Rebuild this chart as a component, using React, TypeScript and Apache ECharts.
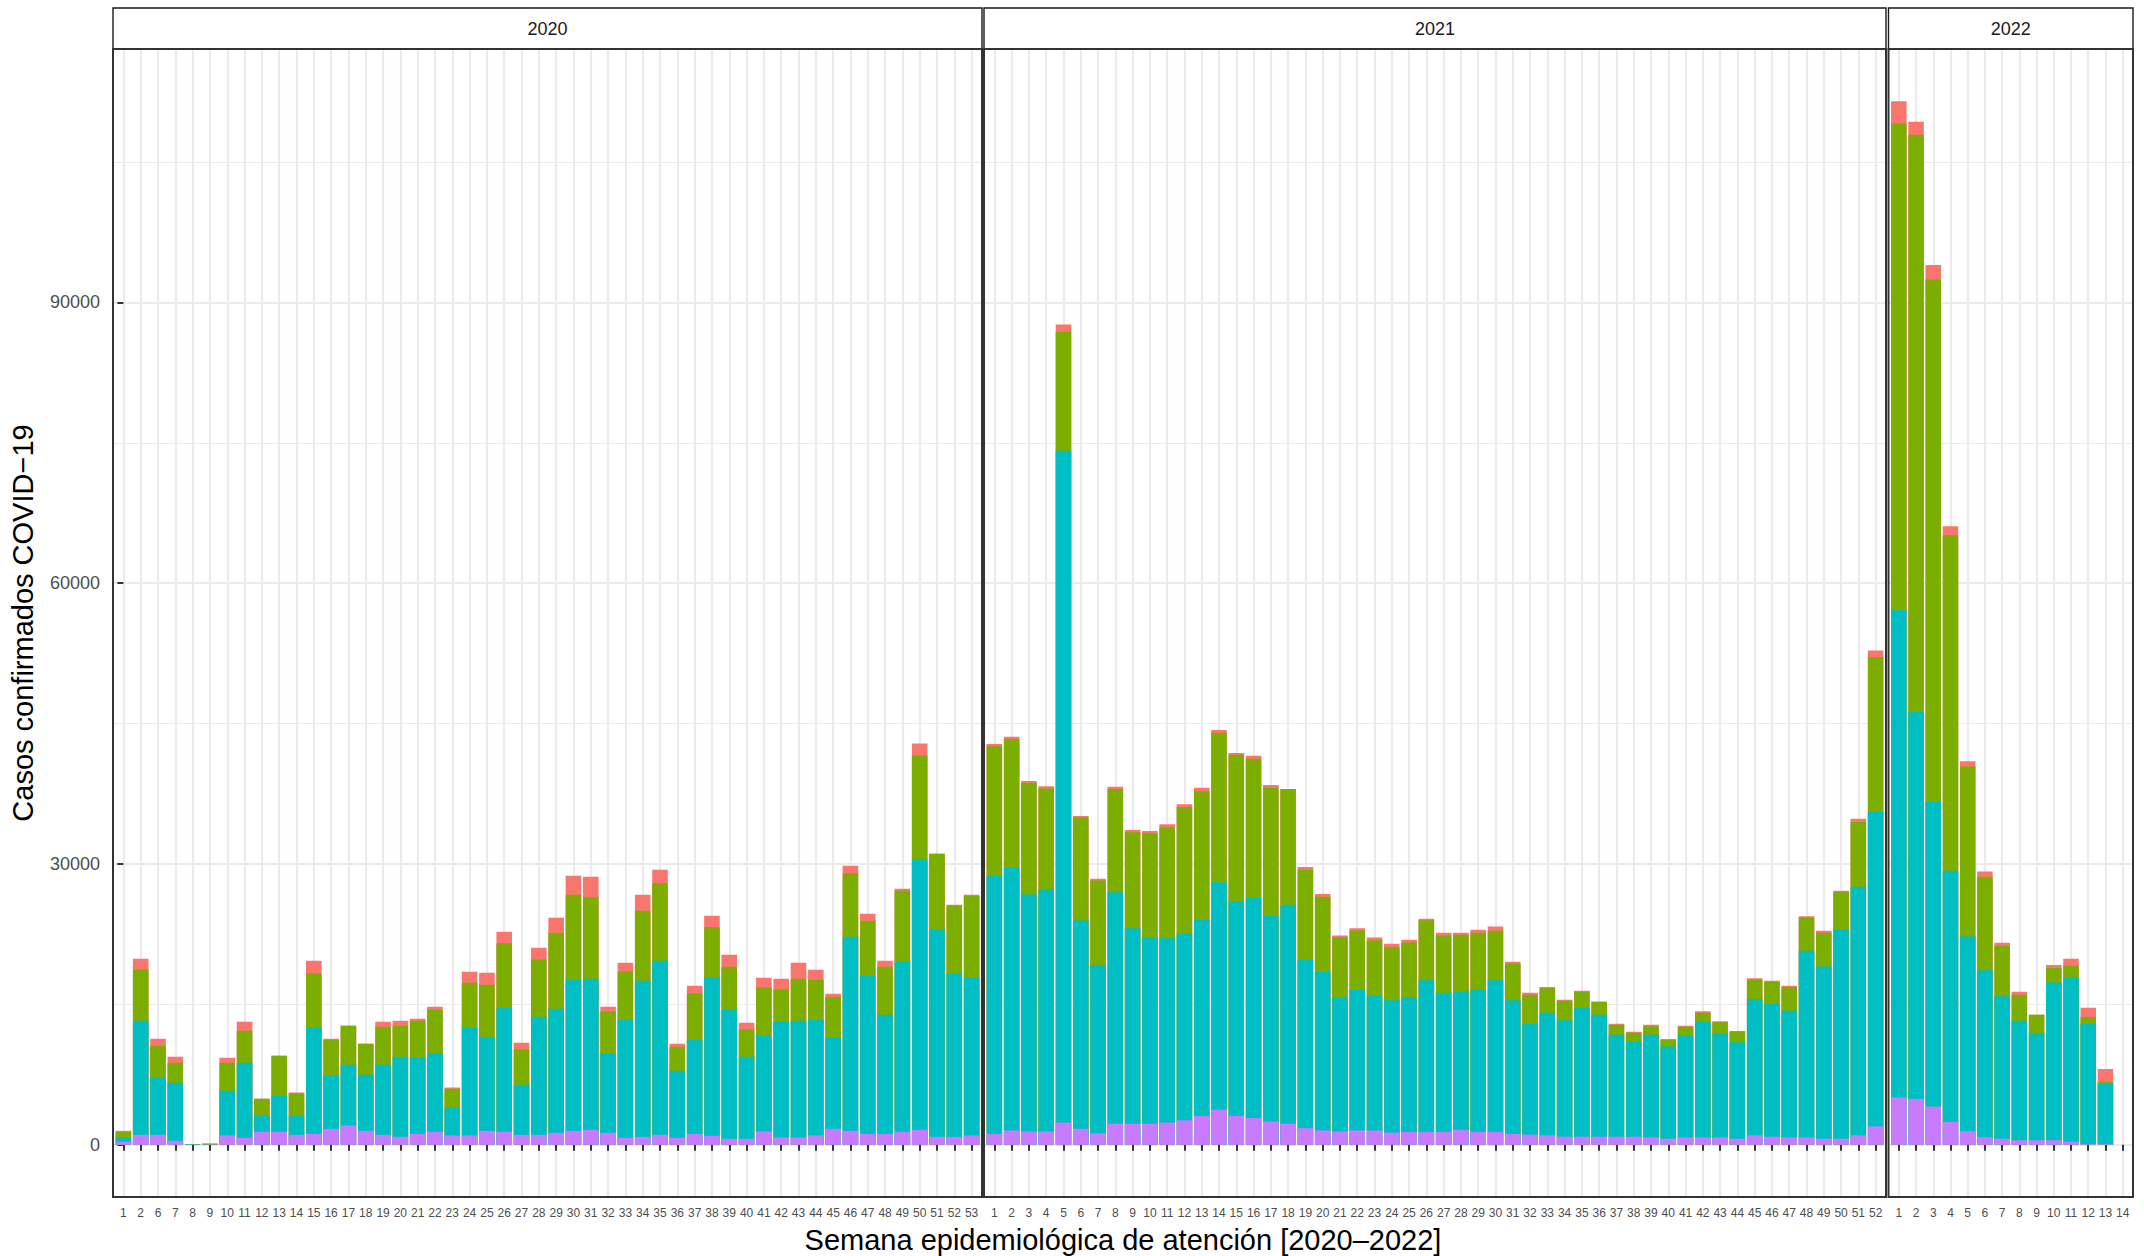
import React, { useEffect, useRef } from "react";
import * as echarts from "echarts";

// ---------- DATA ----------
const weeks2020 = [1, 2, 6, 7, 8, 9, 10, 11, 12, 13, 14, 15, 16, 17, 18, 19, 20, 21, 22, 23, 24, 25, 26, 27, 28, 29, 30, 31, 32, 33, 34, 35, 36, 37, 38, 39, 40, 41, 42, 43, 44, 45, 46, 47, 48, 49, 50, 51, 52, 53];
const weeks2021 = [1, 2, 3, 4, 5, 6, 7, 8, 9, 10, 11, 12, 13, 14, 15, 16, 17, 18, 19, 20, 21, 22, 23, 24, 25, 26, 27, 28, 29, 30, 31, 32, 33, 34, 35, 36, 37, 38, 39, 40, 41, 42, 43, 44, 45, 46, 47, 48, 49, 50, 51, 52];
const weeks2022 = [1, 2, 3, 4, 5, 6, 7, 8, 9, 10, 11, 12, 13, 14];

// stacked from bottom: purple, cyan, green, red
const purple2020 = [320, 1069, 1069, 428, 0, 30, 998, 748, 1390, 1390, 1069, 1176, 1710, 2067, 1496, 1069, 855, 1176, 1390, 998, 998, 1496, 1390, 1069, 1069, 1283, 1496, 1603, 1283, 748, 855, 1069, 748, 1176, 962, 641, 641, 1425, 784, 784, 998, 1710, 1496, 1176, 1176, 1390, 1603, 855, 855, 998];
const cyan2020 = [430, 12185, 6128, 6200, 60, 0, 4774, 8017, 1746, 3884, 2067, 11366, 5701, 6485, 5986, 7482, 8551, 8159, 8373, 2993, 11544, 10048, 13290, 5345, 12613, 13254, 16176, 16140, 8480, 12649, 16675, 18599, 7162, 10083, 16924, 13824, 8765, 10261, 12399, 12470, 12399, 9763, 20737, 16924, 12720, 18207, 28897, 22162, 17459, 16889];
const green2020 = [640, 5487, 3385, 2138, 0, 100, 2993, 3420, 1781, 4240, 2352, 5772, 3812, 4169, 3314, 4062, 3314, 3919, 4668, 1995, 4774, 5558, 6841, 3777, 6128, 8124, 9050, 8694, 4489, 5131, 7482, 8266, 2565, 4917, 5345, 4561, 2922, 5131, 3420, 4489, 4240, 4347, 6770, 5843, 5131, 7554, 11084, 8088, 7233, 8729];
const red2020 = [107, 1140, 748, 641, 0, 0, 534, 962, 0, 0, 107, 1354, 107, 0, 0, 534, 534, 214, 321, 143, 1176, 1283, 1247, 713, 1247, 1603, 2031, 2209, 499, 926, 1710, 1461, 321, 819, 1247, 1283, 713, 1033, 1140, 1710, 1069, 321, 819, 748, 641, 214, 1283, 0, 107, 107];

const purple2021 = [1176, 1536, 1416, 1416, 2376, 1716, 1236, 2256, 2256, 2256, 2376, 2616, 3096, 3756, 3096, 2856, 2496, 2256, 1776, 1536, 1416, 1536, 1532, 1310, 1384, 1384, 1384, 1605, 1384, 1384, 1163, 1089, 1015, 868, 868, 868, 868, 868, 795, 648, 795, 795, 795, 648, 1015, 868, 795, 795, 648, 648, 1015, 1972];
const cyan2021 = [27600, 28080, 25320, 25920, 71760, 22260, 17940, 24720, 20880, 19920, 19680, 19920, 21000, 24300, 22920, 23520, 21960, 23400, 18000, 16920, 14280, 15000, 14425, 14131, 14351, 16191, 14867, 14793, 15235, 16191, 14278, 11845, 13098, 12435, 13760, 13024, 10890, 10154, 10963, 9859, 10889, 12361, 11110, 10301, 14574, 14202, 13539, 19945, 18400, 22373, 26568, 33575];
const green2021 = [13800, 13740, 11940, 10740, 12720, 10980, 9060, 11040, 10260, 11100, 11880, 13560, 13680, 15960, 15660, 14880, 13680, 12360, 9600, 8040, 6480, 6360, 5888, 5668, 5889, 6404, 6109, 6035, 6035, 5300, 3897, 3092, 2613, 2098, 1730, 1399, 1067, 956, 920, 699, 920, 957, 1177, 1177, 2057, 2355, 2539, 3533, 3606, 4011, 6917, 16560];
const red2021 = [240, 240, 180, 240, 780, 180, 180, 240, 240, 240, 300, 300, 360, 300, 180, 300, 300, 0, 300, 300, 180, 240, 294, 368, 294, 184, 294, 221, 331, 441, 221, 221, 147, 110, 110, 0, 110, 111, 147, 110, 111, 147, 111, 0, 147, 111, 110, 147, 221, 110, 331, 699];

const purple2022 = [5072, 4908, 4090, 2454, 1472, 818, 654, 491, 491, 491, 327, 80, 80, 0];
const cyan2022 = [52024, 41391, 32556, 26830, 20778, 17832, 15215, 12761, 11452, 16851, 17505, 12844, 6464, 0];
const green2022 = [52025, 61595, 55788, 35829, 18159, 9980, 5399, 2781, 1963, 1554, 1309, 737, 164, 0];
const red2022 = [2372, 1391, 1554, 981, 573, 573, 327, 327, 0, 327, 736, 981, 1390, 0];

const years = ["2020", "2021", "2022"];
const yMajorTicks = [0, 30000, 60000, 90000];
const yMinorTicks = [15000, 45000, 75000, 105000];
const yTitle = "Casos confirmados COVID\u221219";
const xTitle = "Semana epidemiológica de atención [2020\u20132022]";

// ---------- STYLE / LAYOUT ----------
const COLORS = ["#C77CFF", "#00BFC4", "#7CAE00", "#F8766D"];
const FONT = "'Liberation Sans', Arial, Helvetica, sans-serif";
const PANEL_TOP = 49;
const PANEL_HEIGHT = 1148;
const STRIP_TOP = 8;
const PANEL_BOX = [
  { left: 113, width: 869 },
  { left: 984, width: 902 },
  { left: 1888.5, width: 244.5 },
];

const App: React.FC = () => {
  const ref = useRef<HTMLDivElement>(null);

  useEffect(() => {
    if (!ref.current) return;
    const chart = echarts.init(ref.current, undefined, { renderer: "svg" });

    const panelWeeks = [weeks2020, weeks2021, weeks2022];
    const panelSeries = [
      [purple2020, cyan2020, green2020, red2020],
      [purple2021, cyan2021, green2021, red2021],
      [purple2022, cyan2022, green2022, red2022],
    ];

    let maxTotal = 0;
    panelSeries.forEach((grp) => {
      grp[0].forEach((_, i) => {
        const t = grp.reduce((s, arr) => s + arr[i], 0);
        if (t > maxTotal) maxTotal = t;
      });
    });
    const yMin = -0.05 * maxTotal;
    const yMax = 1.05 * maxTotal;

    const grids: any[] = [];
    const xAxes: any[] = [];
    const yAxes: any[] = [];
    const series: any[] = [];
    const graphics: any[] = [];

    PANEL_BOX.forEach((box, k) => {
      const weeks = panelWeeks[k];
      const n = weeks.length;
      const idx = weeks.map((_, i) => i);
      grids.push({ left: box.left, top: PANEL_TOP, width: box.width, height: PANEL_HEIGHT, show: false });
      xAxes.push({
        type: "value",
        gridIndex: k,
        min: -0.6,
        max: n - 1 + 0.6,
        axisLine: { show: false },
        axisTick: { show: true, length: 6, customValues: idx, lineStyle: { color: "#333333", width: 2 } },
        axisLabel: {
          customValues: idx,
          formatter: (v: number) => String(weeks[Math.round(v)]),
          fontSize: 12,
          color: "#4D4D4D",
          margin: 10,
          fontFamily: FONT,
        },
        splitLine: { show: true, lineStyle: { color: "#EBEBEB", width: 2.2 } },
      });
      yAxes.push({
        type: "value",
        gridIndex: k,
        min: yMin,
        max: yMax,
        axisLine: { show: false },
        axisTick: { show: k === 0, length: 6, customValues: yMajorTicks, lineStyle: { color: "#333333", width: 2 } },
        axisLabel: {
          show: k === 0,
          customValues: yMajorTicks,
          formatter: (v: number) => String(Math.round(v)),
          fontSize: 18,
          color: "#4D4D4D",
          margin: 13,
          fontFamily: FONT,
        },
        splitLine: { show: true, lineStyle: { color: "#EBEBEB", width: 2.2 } },
      });

      // Stacked bars: each layer is drawn as the running total of the layers
      // beneath it, topmost layer first so lower layers paint over it.
      const grp = panelSeries[k];
      const cumulative: number[][] = [];
      grp.forEach((arr, s) => {
        cumulative.push(arr.map((v, i) => v + (s > 0 ? cumulative[s - 1][i] : 0)));
      });
      for (let s = grp.length - 1; s >= 0; s--) {
        series.push({
          type: "bar",
          name: years[k] + "-" + s,
          xAxisIndex: k,
          yAxisIndex: k,
          barWidth: "90%",
          barGap: "-100%",
          itemStyle: { color: COLORS[s] },
          data: cumulative[s].map((v, i) => [i, v]),
        });
      }

      // strip
      graphics.push({
        type: "rect",
        shape: { x: box.left, y: STRIP_TOP, width: box.width, height: PANEL_TOP - STRIP_TOP },
        style: { fill: "#FFFFFF", stroke: "#1A1A1A", lineWidth: 1.4 },
        z: 5,
      });
      graphics.push({
        type: "text",
        x: box.left + box.width / 2,
        y: (STRIP_TOP + PANEL_TOP) / 2,
        style: {
          text: years[k],
          fill: "#1A1A1A",
          font: `18px ${FONT}`,
          textAlign: "center",
          textVerticalAlign: "middle",
        },
        z: 6,
      });
      // panel border
      graphics.push({
        type: "rect",
        shape: { x: box.left, y: PANEL_TOP, width: box.width, height: PANEL_HEIGHT },
        style: { fill: "none", stroke: "#333333", lineWidth: 2 },
        z: 10,
        silent: true,
      });
    });

    // minor y grid lines
    PANEL_BOX.forEach((_, k) => {
      yAxes.push({
        type: "value",
        gridIndex: k,
        min: yMin,
        max: yMax,
        axisLine: { show: false },
        axisTick: { show: false, customValues: yMinorTicks },
        axisLabel: { show: false, customValues: yMinorTicks },
        splitLine: { show: true, lineStyle: { color: "#EBEBEB", width: 1.1 } },
      });
    });

    graphics.push({
      type: "text",
      x: 23,
      y: PANEL_TOP + PANEL_HEIGHT / 2,
      rotation: Math.PI / 2,
      style: {
        text: yTitle,
        fill: "#000000",
        font: `29px ${FONT}`,
        textAlign: "center",
        textVerticalAlign: "middle",
      },
    });
    graphics.push({
      type: "text",
      x: (PANEL_BOX[0].left + PANEL_BOX[2].left + PANEL_BOX[2].width) / 2,
      y: 1240,
      style: {
        text: xTitle,
        fill: "#000000",
        font: `29px ${FONT}`,
        textAlign: "center",
        textVerticalAlign: "middle",
      },
    });

    chart.setOption({
      animation: false,
      backgroundColor: "#FFFFFF",
      grid: grids,
      xAxis: xAxes,
      yAxis: yAxes,
      series,
      graphic: graphics,
    });

    return () => chart.dispose();
  }, []);

  return (
    <div
      ref={ref}
      style={{ position: "absolute", left: 0, top: 0, width: 2144, height: 1256, background: "#FFFFFF" }}
    />
  );
};

export default App;
